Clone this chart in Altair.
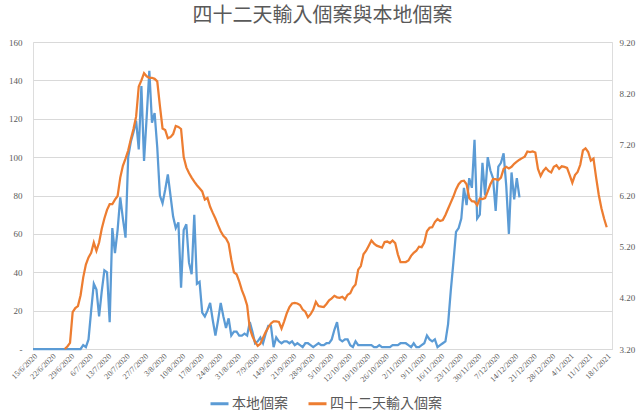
import altair as alt
import pandas as pd

# ---- data ----
start_date = "2020-06-15"

# daily local cases (left axis), one value per day from 15/6/2020
local_cases = [
    0, 0, 0, 0, 0, 0, 0, 0, 0, 0, 0, 0, 0, 0, 0, 0, 0, 0, 0,
    2, 1, 5, 20, 34, 31, 17, 30, 41, 40, 14, 63, 50, 62, 79, 68, 58,
    100, 108, 113, 119, 104, 137, 98, 121, 145, 118, 123, 105, 80, 76,
    83, 91, 80, 69, 63, 66, 32, 62, 65, 45, 39, 70, 34, 35, 19, 17, 20,
    24, 15, 7, 15, 24, 17, 11, 16, 7, 9, 9, 7, 7, 8, 7, 14, 9, 3, 4, 6,
    3, 8, 12, 12, 1, 6, 4, 3, 4, 4, 3, 4, 2, 3, 2, 1, 3,
    3, 2, 1, 2, 3, 2, 2, 3, 3, 5, 10, 14, 5, 4, 5, 5, 2, 1, 4, 2, 2, 2,
    2, 2, 2, 1, 1, 2, 1, 1, 1, 1, 2, 2, 2, 3, 3, 3, 2, 1, 3, 1, 1, 2, 3,
    7, 5, 4, 5, 1, 2, 3, 4, 13, 30, 45, 61, 63, 68, 84, 75, 89, 84, 109,
    68, 70, 97, 80, 100, 93, 89, 72, 95, 97, 102, 85, 60, 92, 78, 89, 79,
]

# 42-day imported cases (right axis), daily from 27/6/2020
import_start_date = "2020-06-27"
import_42d = [
    3.20, 3.25, 3.32, 3.92, 4.00, 4.04, 4.25, 4.60, 4.85, 4.99, 5.08, 5.28,
    5.12, 5.28, 5.55, 5.75, 5.92, 6.03, 6.03, 6.12, 6.19, 6.55, 6.78, 6.92,
    7.08, 7.30, 7.50, 7.74, 8.33, 8.45, 8.59, 8.53, 8.50, 8.50, 8.48, 8.43,
    7.95, 7.51, 7.48, 7.32, 7.34, 7.40, 7.56, 7.54, 7.50, 6.95, 6.75, 6.64,
    6.55, 6.47, 6.40, 6.34, 6.28, 6.12, 6.15, 5.98, 5.86, 5.75, 5.62, 5.50,
    5.41, 5.36, 5.26, 4.95, 4.70, 4.66, 4.52, 4.35, 4.22, 4.05, 3.60, 3.45,
    3.34, 3.26, 3.30, 3.42, 3.53, 3.62, 3.70, 3.74, 3.74, 3.73, 3.60, 3.74,
    3.90, 4.02, 4.09, 4.10, 4.09, 4.06, 3.97, 3.93, 3.82, 3.88, 3.97, 4.12,
    4.04, 4.03, 4.02, 4.08, 4.15, 4.19, 4.24, 4.21, 4.20, 4.22, 4.17, 4.26,
    4.29, 4.40, 4.46, 4.75, 4.82, 5.05, 5.12, 5.22, 5.32, 5.26, 5.22, 5.20,
    5.18, 5.29, 5.30, 5.27, 5.32, 5.27, 5.05, 4.90, 4.90, 4.90, 4.93, 5.02,
    5.08, 5.12, 5.20, 5.19, 5.28, 5.50, 5.57, 5.58, 5.68, 5.74, 5.70, 5.72,
    5.82, 5.94, 6.06, 6.18, 6.32, 6.42, 6.48, 6.49, 6.42, 6.15, 6.09, 6.08,
    6.01, 6.14, 6.13, 6.15, 6.28, 6.42, 6.52, 6.52, 6.50, 6.55, 6.72, 6.76,
    6.73, 6.76, 6.82, 6.86, 6.90, 6.93, 6.96, 7.06, 7.05, 7.06, 7.04, 6.72,
    6.58, 6.68, 6.74, 6.68, 6.65, 6.76, 6.79, 6.72, 6.77, 6.76, 6.74, 6.60,
    6.45, 6.60, 6.66, 6.80, 7.08, 7.12, 7.05, 6.88, 6.92, 6.55, 6.21, 5.95,
    5.75, 5.58,
]

series_names = ["本地個案", "四十二天輸入個案"]
series_colors = ["#5B9BD5", "#ED7D31"]

# weekly x-axis labels
tick_dates = [
    "2020-06-15", "2020-06-22", "2020-06-29", "2020-07-06", "2020-07-13",
    "2020-07-20", "2020-07-27", "2020-08-03", "2020-08-10", "2020-08-17",
    "2020-08-24", "2020-08-31", "2020-09-07", "2020-09-14", "2020-09-21",
    "2020-09-28", "2020-10-05", "2020-10-12", "2020-10-19", "2020-10-26",
    "2020-11-02", "2020-11-09", "2020-11-16", "2020-11-23", "2020-11-30",
    "2020-12-07", "2020-12-14", "2020-12-21", "2020-12-28", "2021-01-04",
    "2021-01-11", "2021-01-18",
]
x_domain = ["2020-06-15", "2021-01-20"]
left_ticks = [0, 20, 40, 60, 80, 100, 120, 140, 160]
right_ticks = [3.2, 4.2, 5.2, 6.2, 7.2, 8.2, 9.2]


def to_dt(s):
    y, m, d = (int(p) for p in s.split("-"))
    return alt.DateTime(year=y, month=m, date=d)


df_local = pd.DataFrame({
    "date": pd.date_range(start_date, periods=len(local_cases), freq="D"),
    "value": local_cases,
    "series": series_names[0],
})
df_import = pd.DataFrame({
    "date": pd.date_range(import_start_date, periods=len(import_42d), freq="D"),
    "value": import_42d,
    "series": series_names[1],
})

label_color = "#595959"
num_font = "Liberation Serif"
cjk_font = "Noto Sans CJK TC"

x_enc = alt.X(
    "date:T",
    title=None,
    scale=alt.Scale(domain=[to_dt(d) for d in x_domain]),
    axis=alt.Axis(
        values=[to_dt(d) for d in tick_dates],
        format="%-d/%-m/%Y",
        labelAngle=-45,
        labelFontSize=8,
        labelFont=num_font,
        labelColor=label_color,
        labelPadding=3,
        labelOverlap=False,
        ticks=False,
        grid=False,
        domainColor="#d9d9d9",
    ),
)

color_enc = alt.Color(
    "series:N",
    scale=alt.Scale(domain=series_names, range=series_colors),
    legend=alt.Legend(
        orient="none",
        legendX=176,
        legendY=351,
        direction="horizontal",
        title=None,
        labelFont=cjk_font,
        labelFontSize=14,
        labelColor=label_color,
        labelOffset=2,
        symbolType="stroke",
        symbolSize=324,
        symbolStrokeWidth=3,
        columnPadding=14,
    ),
)

local_line = alt.Chart(df_local).mark_line(strokeWidth=2.25).encode(
    x=x_enc,
    y=alt.Y(
        "value:Q",
        title=None,
        scale=alt.Scale(domain=[0, 160], nice=False, zero=False),
        axis=alt.Axis(
            values=left_ticks,
            labelExpr="datum.value == 0 ? '-' : datum.label",
            labelFont=num_font,
            labelFontSize=9,
            labelColor=label_color,
            labelPadding=11,
            grid=True,
            gridColor="#d9d9d9",
            domain=False,
            ticks=False,
        ),
    ),
    color=color_enc,
)

import_line = alt.Chart(df_import).mark_line(strokeWidth=2.25).encode(
    x=x_enc,
    y=alt.Y(
        "value:Q",
        title=None,
        scale=alt.Scale(domain=[3.2, 9.2], nice=False, zero=False),
        axis=alt.Axis(
            orient="right",
            values=right_ticks,
            format=".2f",
            labelFont=num_font,
            labelFontSize=9,
            labelColor=label_color,
            labelPadding=7,
            grid=False,
            domain=False,
            ticks=False,
        ),
    ),
    color=color_enc,
)

chart = (
    alt.layer(local_line, import_line)
    .resolve_scale(y="independent")
    .properties(
        width=579,
        height=307,
        title=alt.TitleParams(
            "四十二天輸入個案與本地個案",
            font=cjk_font,
            fontSize=20,
            fontWeight="normal",
            color=label_color,
            anchor="middle",
            offset=12,
        ),
        autosize=alt.AutoSizeParams(type="none"),
        padding={"left": 33, "top": 42, "right": 28, "bottom": 64},
    )
    .configure_view(stroke=None)
    .configure(background="white")
)

chart.save("out.html", embed_options={"renderer": "svg", "actions": False})
